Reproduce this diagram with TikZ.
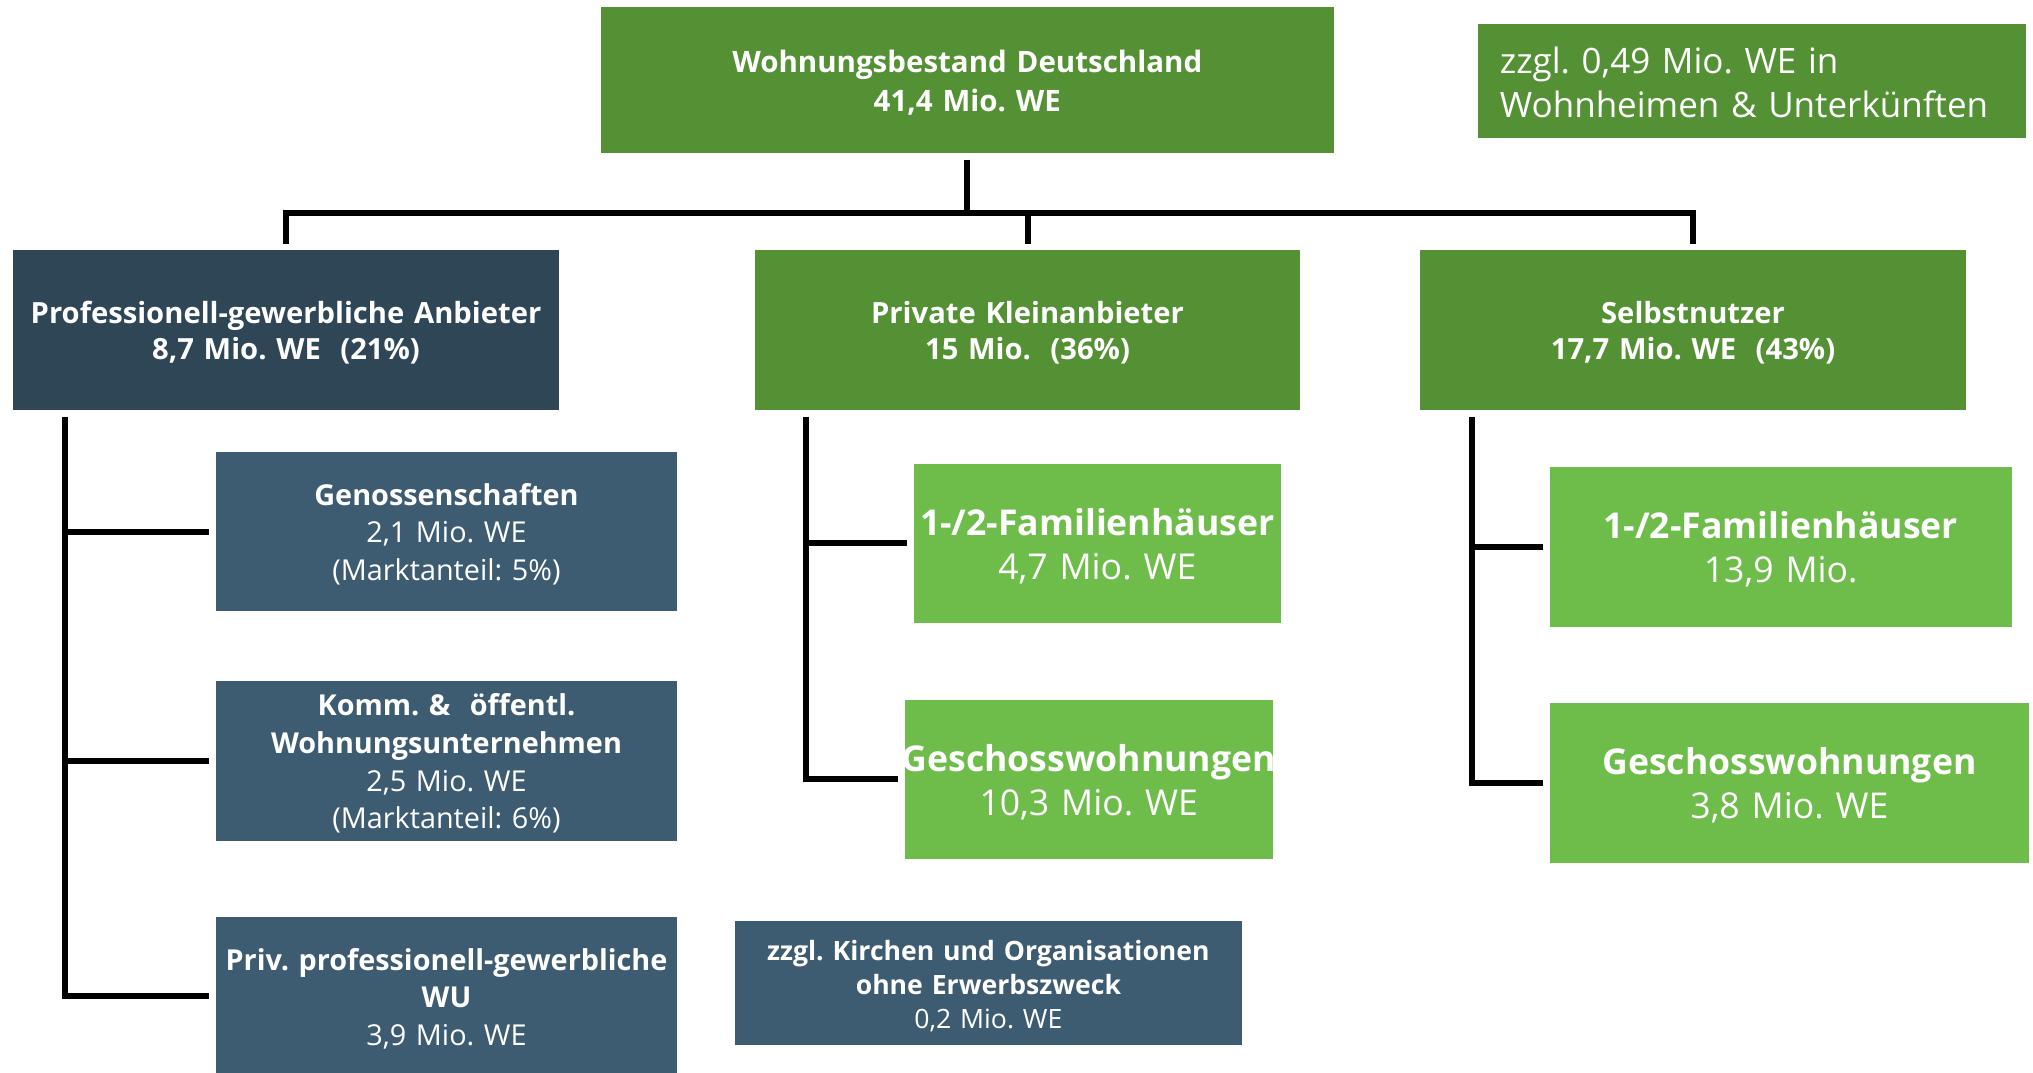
\documentclass[tikz,border=0pt]{standalone}
\usepackage{fontspec}
\setmainfont{Open Sans}
\definecolor{mgreen}{HTML}{549134}
\definecolor{lgreen}{HTML}{6EBD4A}
\definecolor{dnavy}{HTML}{2F4657}
\definecolor{snavy}{HTML}{3D5C72}
\tikzset{
  box/.style={rectangle, inner ysep=0pt, inner xsep=-5pt, text=white, align=center,
    execute at begin node={\frenchspacing\hyphenpenalty=10000\exhyphenpenalty=10000\rule{0pt}{\dimexpr 0.76em+2.6pt\relax}}},
  notebox/.style={rectangle, inner sep=0pt, text=white, align=left,
    execute at begin node={\frenchspacing\rule{0pt}{\dimexpr 0.76em+1.3pt\relax}}},
  conn/.style={line width=3pt, black, line join=miter},
  topfont/.style={font=\fontsize{14.75}{19.5}\selectfont\bfseries},
  lvlfont/.style={font=\fontsize{14.6}{18.2}\selectfont\bfseries},
  subfont/.style={font=\fontsize{14.4}{18.8}\selectfont},
  famfont/.style={font=\fontsize{17.8}{22}\selectfont},
  kirfont/.style={font=\fontsize{13.3}{17}\selectfont},
  notefont/.style={font=\fontsize{17.5}{22}\selectfont},
}
\begin{document}
\begin{tikzpicture}[x=0.5pt,y=-0.5pt]
\useasboundingbox (0,0) rectangle (2033,1072);
\clip (0,0) rectangle (2033,1072);

% top level
\node[box, fill=mgreen, topfont, minimum width=366.5pt, text width=376.5pt, minimum height=72.85pt] (top) at (967.3,79.7)
  {Wohnungsbestand Deutschland\\41,4 Mio. WE};
\node[notebox, fill=mgreen, notefont, text width=252pt, inner xsep=11pt, minimum height=57pt] (note) at (1751.9,80.9)
  {zzgl. 0,49 Mio. WE in\\Wohnheimen \& Unterkünften};

% level 1
\node[box, fill=dnavy, lvlfont, minimum width=273pt, text width=283pt, minimum height=80pt] (prof) at (286,330)
  {Professionell-gewerbliche Anbieter\\8,7 Mio. WE\ \ (21\%)};
\node[box, fill=mgreen, lvlfont, minimum width=272.5pt, text width=282.5pt, minimum height=80pt] (priv) at (1027.5,330)
  {Private Kleinanbieter\\15 Mio.\ \ (36\%)};
\node[box, fill=mgreen, lvlfont, minimum width=273pt, text width=283pt, minimum height=80pt] (selbst) at (1693,330)
  {Selbstnutzer\\17,7 Mio. WE\ \ (43\%)};

% professional children
\node[box, fill=snavy, subfont, minimum width=230.5pt, text width=240.5pt, minimum height=79.5pt] (gen) at (446.5,531.5)
  {\textbf{Genossenschaften}\\2,1 Mio. WE\\(Marktanteil: 5\%)};
\node[box, fill=snavy, subfont, minimum width=230.5pt, text width=240.5pt, minimum height=79.6pt] (komm) at (446.5,761)
  {\textbf{Komm. \&\ \ öffentl.}\\\textbf{Wohnungsunternehmen}\\2,5 Mio. WE\\(Marktanteil: 6\%)};
\node[box, fill=snavy, subfont, minimum width=230.5pt, text width=240.5pt, minimum height=79.5pt] (privpro) at (446.5,996)
  {\textbf{Priv. professionell-gewerbliche}\\\textbf{WU}\\3,9 Mio. WE};

% private children
\node[box, fill=lgreen, famfont, minimum width=183.7pt, text width=193.7pt, minimum height=79.6pt] (pfam) at (1097.3,543.2)
  {\textbf{1-/2-Familienhäuser}\\4,7 Mio. WE};
\node[box, fill=lgreen, famfont, minimum width=184.2pt, text width=194.2pt, minimum height=79.5pt] (pges) at (1088.7,779.3)
  {\textbf{Geschosswohnungen}\\10,3 Mio. WE};
\node[box, fill=snavy, kirfont, minimum width=253.6pt, text width=263.6pt, minimum height=62.2pt] (kirchen) at (988.4,983.2)
  {\textbf{zzgl. Kirchen und Organisationen}\\\textbf{ohne Erwerbszweck}\\0,2 Mio. WE};

% selbstnutzer children
\node[box, fill=lgreen, famfont, minimum width=230.9pt, text width=240.9pt, minimum height=79.8pt] (sfam) at (1780.7,546.8)
  {\textbf{1-/2-Familienhäuser}\\13,9 Mio.};
\node[box, fill=lgreen, famfont, minimum width=239.6pt, text width=249.6pt, minimum height=79.7pt] (sges) at (1789.4,782.9)
  {\textbf{Geschosswohnungen}\\3,8 Mio. WE};

% tree connectors
\coordinate (bus) at (967,213);
\draw[conn] ([yshift=-3.3pt]top.south) -- (top.south |- bus);
\draw[conn] ([yshift=3pt]prof.north) |- (bus) -| ([yshift=3pt]selbst.north);
\draw[conn] ([yshift=3pt]priv.north) -- (priv.north |- bus);

\coordinate (pv) at ([xshift=26pt,yshift=-3.4pt]prof.south west);
\draw[conn] (pv) |- ([xshift=-3.4pt]privpro.west);
\draw[conn] ([xshift=-3.4pt]gen.west) -- (gen.west -| pv);
\draw[conn] ([xshift=-3.4pt]komm.west) -- (komm.west -| pv);

\coordinate (qv) at ([xshift=25.5pt,yshift=-3.4pt]priv.south west);
\draw[conn] (qv) |- ([xshift=-3.3pt]pges.west);
\draw[conn] ([xshift=-3.3pt]pfam.west) -- (pfam.west -| qv);

\coordinate (sv) at ([xshift=26pt,yshift=-3.4pt]selbst.south west);
\draw[conn] (sv) |- ([xshift=-3.4pt]sges.west);
\draw[conn] ([xshift=-3.4pt]sfam.west) -- (sfam.west -| sv);
\end{tikzpicture}
\end{document}
